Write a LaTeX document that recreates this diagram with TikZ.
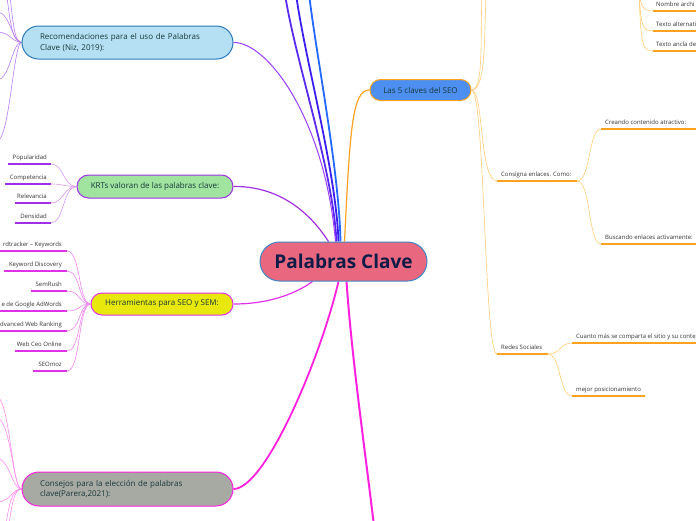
\documentclass[tikz,border=0pt]{standalone}
\usepackage{fontspec}
\setmainfont{Open Sans}
\usepackage{xcolor}
\usetikzlibrary{positioning,calc,backgrounds}

\definecolor{hubfill}{HTML}{E9687F}
\definecolor{hubline}{HTML}{3F86C6}
\definecolor{hubtext}{HTML}{101C48}
\definecolor{boxtext}{HTML}{17383A}
\definecolor{leaftext}{HTML}{333333}
\definecolor{recomfill}{HTML}{B5E0F3}
\definecolor{recomline}{HTML}{2A7AB8}
\definecolor{recomcol}{HTML}{9B3DFF}
\definecolor{recomtwig}{HTML}{B77CF5}
\definecolor{krtfill}{HTML}{A0E4A0}
\definecolor{krtcol}{HTML}{A030E8}
\definecolor{krttwig}{HTML}{D896F0}
\definecolor{herrfill}{HTML}{E9E80C}
\definecolor{herrcol}{HTML}{E030E8}
\definecolor{herrtwig}{HTML}{F084F0}
\definecolor{consfill}{HTML}{A7A9A3}
\definecolor{conscol}{HTML}{FF20E0}
\definecolor{constwig}{HTML}{FF8CEE}
\definecolor{seofill}{HTML}{4D8FF0}
\definecolor{seocol}{HTML}{FFA21F}
\definecolor{seotwig}{HTML}{FFCC77}
\definecolor{upa}{HTML}{5A2AF0}
\definecolor{upb}{HTML}{3A1FF0}
\definecolor{upc}{HTML}{2468FF}

\tikzset{
  topic/.style={draw, line width=1pt, inner sep=0pt, align=center,
                text=boxtext, font=\fontsize{8}{11}\selectfont},
  leaf/.style={inner sep=0pt, text=leaftext, font=\fontsize{6}{7}\selectfont},
  uline/.style={line width=1.5pt},
  twig/.style={line width=0.6pt},
}

\begin{document}
\begin{tikzpicture}[x=1pt,y=-1pt]
  \useasboundingbox (0,0) rectangle (696,520);
  \clip (0,0) rectangle (696,520);

  % main topics
  \node[topic,draw=hubline,fill=hubfill,rounded corners=19.5,minimum width=167,
        minimum height=39,text=hubtext,font=\fontsize{19}{22}\selectfont\bfseries]
       (main) at (343.5,261.5) {Palabras Clave};
  \node[topic,draw=seocol,fill=seofill,rounded corners=10.5,minimum width=101,
        minimum height=21] (claves) at (420.5,90) {Las 5 claves del SEO};
  \node[topic,draw=recomline,fill=recomfill,rounded corners=16.5,minimum width=211,
        minimum height=33,text width=175,align=left] (recom) at (127.5,42.5)
       {Recomendaciones para el uso de Palabras\\Clave (Niz, 2019):};
  \node[topic,draw=krtcol,fill=krtfill,rounded corners=11.5,minimum width=156,
        minimum height=23] (krts) at (155,186.5) {KRTs valoran de las palabras clave:};
  \node[topic,draw=herrcol,fill=herrfill,rounded corners=11,minimum width=142,
        minimum height=22] (herram) at (162,304) {Herramientas para SEO y SEM:};
  \node[topic,draw=conscol,fill=consfill,rounded corners=17,minimum width=211,
        minimum height=34,text width=175,align=left,font=\fontsize{8}{10.5}\selectfont]
       (consejos) at (127.5,489) {Consejos para la elección de palabras\\clave(Parera,2021):};

  \coordinate (up1) at (285,-6);
  \coordinate (up2) at (296,-6);
  \coordinate (up3) at (309,-6);
  \coordinate (down) at (374,526);

  \begin{scope}[on background layer]
    % branches of the hub
    \draw[line width=1.8pt,upa] ([xshift=-7]main.north) .. controls (333,170) and (295,60) .. (up1);
    \draw[line width=1.8pt,upb] ([xshift=-5]main.north) .. controls (336,170) and (305,60) .. (up2);
    \draw[line width=1.8pt,upc] ([xshift=-3]main.north) .. controls (339,170) and (317,60) .. (up3);
    \draw[line width=1pt,recomcol] (recom.east) .. controls (268,42) and (325,120) .. ([xshift=-8]main.north);
    \draw[line width=1.2pt,krtcol] (krts.east) .. controls (272,186) and (305,205) .. ([xshift=-15]main.north);
    \draw[line width=1.2pt,seocol] ([xshift=1]main.north) .. controls (350,130) and (352,90) .. (claves.west);
    \draw[line width=1.2pt,herrcol] (herram.east) .. controls (272,304) and (298,292) .. ([xshift=-31]main.south);
    \draw[line width=1.8pt,conscol] (consejos.east) .. controls (265,489) and (320,360) .. ([xshift=-5]main.south);
    \draw[line width=2pt,conscol] ([xshift=3]main.south) .. controls (352,360) and (365,450) .. (down);

    % twigs of the recommendations
    \draw[twig,recomtwig] (recom.west) .. controls (12,42) and (10,20) .. (7,-3);
    \draw[twig,recomtwig] (recom.west) .. controls (14,42) and (13,20) .. (10,-3);
    \draw[twig,recomtwig] (recom.west) .. controls (12,42) and (10,12) .. (-3,12);
    \draw[twig,recomtwig] (recom.west) .. controls (12,42) and (10,32) .. (-3,32);
    \draw[twig,recomtwig] (recom.west) .. controls (12,42) and (10,80) .. (-3,80);
    \draw[twig,recomtwig] (recom.west) .. controls (14,42) and (10,130) .. (-1,140);

    % twigs of the advice
    \draw[twig,constwig] (consejos.west) .. controls (12,489) and (10,402) .. (-3,396);
    \draw[twig,constwig] (consejos.west) .. controls (13,489) and (11,420) .. (-3,418);
    \draw[twig,constwig] (consejos.west) .. controls (12,489) and (10,460) .. (-3,458);
    \draw[twig,constwig] (consejos.west) .. controls (12,489) and (10,502) .. (-3,502);
    \draw[twig,constwig] (consejos.west) .. controls (12,489) and (9,505) .. (6,524);
    \draw[twig,constwig] (consejos.west) .. controls (14,489) and (12,505) .. (9,524);
  \end{scope}

  % KRTs
  \foreach \i/\xa/\y/\txt in {1/8/164/Popularidad,2/5/184/Competencia,
                              3/15/203/Relevancia,4/15/223/Densidad}{
    \coordinate (k\i) at (51,\y);
    \node[leaf,anchor=base east] (kt\i) at (47,\y-5) {\txt};
    \draw[uline,krtcol] (\xa,\y) -- (k\i);
    \draw[twig,krttwig] (k\i) .. controls (64,\y) and (63,186.5) .. (krts.west);
  }

  % herramientas
  \foreach \i/\xa/\y/\txt in {1/-2/251/rdtracker – Keywords,2/4/271/Keyword Discovery,
                              3/31/291/SemRush,4/-2/311/e de Google AdWords,
                              5/-2/331/dvanced Web Ranking,6/15/351/Web Ceo Online,
                              7/33/371/SEOmoz}{
    \coordinate (h\i) at (67,\y);
    \node[leaf,anchor=base east] (ht\i) at (62,\y-5) {\txt};
    \draw[line width=1.2pt,herrcol] (\xa,\y) -- (h\i);
    \draw[twig,herrtwig] (h\i) .. controls (81,\y) and (78,304) .. (herram.west);
  }

  % las 5 claves
  \coordinate (cs) at (497,181);
  \coordinate (ce) at (577,181);
  \coordinate (rs) at (497,354);
  \coordinate (re) at (548,354);
  \node[leaf,anchor=base west] (consigna) at (501,176) {Consigna enlaces. Como:};
  \node[leaf,anchor=base west] (redes) at (501,349) {Redes Sociales};
  \draw[uline,seocol] (cs) -- (ce);
  \draw[uline,seocol] (rs) -- (re);
  \draw[twig,seotwig] (claves.east) .. controls (484,90) and (480,40) .. (482,-4);
  \draw[twig,seotwig] (claves.east) .. controls (486,90) and (484,40) .. (486,-4);
  \draw[twig,seotwig] (claves.east) .. controls (484,90) and (479,181) .. (cs);
  \draw[twig,seotwig] (claves.east) .. controls (485,90) and (484,354) .. (rs);

  \foreach \i/\y/\txt in {1/129/Creando contenido atractivo:,2/244/Buscando enlaces activamente:}{
    \coordinate (c\i) at (601,\y);
    \node[leaf,anchor=base west] (ct\i) at (605,\y-5) {\txt};
    \draw[uline,seocol] (c\i) -- (697,\y);
    \draw[twig,seotwig] (ce) .. controls (591,181) and (588,\y) .. (c\i);
  }

  \coordinate (r1) at (572,343);
  \coordinate (r2) at (572,396);
  \node[leaf,anchor=base west] (rt1) at (576,338) {Cuanto más se comparta el sitio y su conte};
  \node[leaf,anchor=base west] (rt2) at (576,391) {mejor posicionamiento};
  \draw[uline,seocol] (r1) -- (697,343);
  \draw[uline,seocol] (r2) -- (645,396);
  \draw[twig,seotwig] (re) .. controls (561,354) and (560,343) .. (r1);
  \draw[twig,seotwig] (re) .. controls (561,354) and (559,396) .. (r2);

  % items of a branch above the page
  \coordinate (above) at (639,-8);
  \foreach \i/\y/\txt in {1/11/Nombre archi,2/31/Texto alternati,3/51/Texto ancla de}{
    \coordinate (a\i) at (653,\y);
    \node[leaf,anchor=base west] (at\i) at (656,\y-5) {\txt};
    \draw[uline,seocol] (a\i) -- (697,\y);
    \draw[twig,seotwig] (above) .. controls (641,\y-6) and (642,\y) .. (a\i);
  }
\end{tikzpicture}
\end{document}
